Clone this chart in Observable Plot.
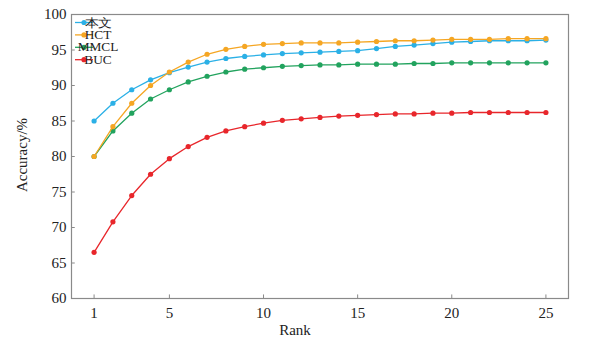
<!DOCTYPE html>
<html>
<head>
<meta charset="utf-8">
<script src="https://cdn.jsdelivr.net/npm/d3@7"></script>
<script src="https://cdn.jsdelivr.net/npm/@observablehq/plot@0.6"></script>
<style>
  html, body { margin: 0; padding: 0; background: #fff; }
  #chart { width: 590px; height: 340px; }
</style>
</head>
<body>
<div id="chart"></div>
<script>
const ranks = [1,2,3,4,5,6,7,8,9,10,11,12,13,14,15,16,17,18,19,20,21,22,23,24,25];
const seriesNames = ["本文", "HCT", "MMCL", "BUC"];
const seriesColors = ["#2bb0e6", "#f5a623", "#22a35e", "#e8262b"];
const benwen = [85.0, 87.5, 89.4, 90.8, 91.8, 92.6, 93.3, 93.8, 94.1, 94.3, 94.5, 94.6, 94.7, 94.8, 94.9, 95.2, 95.5, 95.7, 95.9, 96.1, 96.2, 96.3, 96.3, 96.3, 96.4];
const hct    = [80.0, 84.2, 87.5, 90.0, 91.9, 93.3, 94.4, 95.1, 95.5, 95.8, 95.9, 96.0, 96.0, 96.0, 96.1, 96.2, 96.3, 96.3, 96.4, 96.5, 96.5, 96.5, 96.6, 96.6, 96.6];
const mmcl   = [80.0, 83.6, 86.1, 88.1, 89.4, 90.5, 91.3, 91.9, 92.3, 92.5, 92.7, 92.8, 92.9, 92.9, 93.0, 93.0, 93.0, 93.1, 93.1, 93.2, 93.2, 93.2, 93.2, 93.2, 93.2];
const buc    = [66.5, 70.8, 74.5, 77.5, 79.7, 81.4, 82.7, 83.6, 84.2, 84.7, 85.1, 85.3, 85.5, 85.7, 85.8, 85.9, 86.0, 86.0, 86.1, 86.1, 86.2, 86.2, 86.2, 86.2, 86.2];
const xTicks = [1, 5, 10, 15, 20, 25];
const yTicks = [60, 65, 70, 75, 80, 85, 90, 95, 100];

const seriesValues = [benwen, hct, mmcl, buc];
const rows = [];
seriesNames.forEach((name, si) => {
  ranks.forEach((r, i) => rows.push({series: name, rank: r, acc: seriesValues[si][i]}));
});
const drawOrder = ["BUC", "MMCL", "本文", "HCT"];
const colorOf = Object.fromEntries(seriesNames.map((n, i) => [n, seriesColors[i]]));

const FONT = "'Liberation Serif', 'DejaVu Serif', serif";

const marks = [];
marks.push(Plot.frame({stroke: "#8a8a8a", strokeWidth: 1.2}));
marks.push(Plot.ruleX(xTicks, {x: d => d, y1: 60, y2: 60.5, stroke: "#8a8a8a"}));
marks.push(Plot.ruleY(yTicks, {y: d => d, x1: -0.2, x2: 0.0, stroke: "#8a8a8a"}));
for (const name of drawOrder) {
  const data = rows.filter(d => d.series === name);
  marks.push(Plot.line(data, {x: "rank", y: "acc", stroke: colorOf[name], strokeWidth: 1.3}));
  marks.push(Plot.dot(data, {x: "rank", y: "acc", fill: colorOf[name], r: 2.6, stroke: "none"}));
}
marks.push(Plot.axisX({ticks: xTicks, tickSize: 0, tickPadding: 9, fontSize: 15, label: null}));
marks.push(Plot.axisY({ticks: yTicks, tickSize: 0, tickPadding: 5, fontSize: 15, label: null}));

const chart = Plot.plot({
  width: 590,
  height: 340,
  marginLeft: 71,
  marginRight: 22,
  marginTop: 14,
  marginBottom: 42,
  style: {fontFamily: FONT, color: "#222", background: "#fff"},
  x: {domain: [-0.2, 26.2]},
  y: {domain: [60, 100]},
  marks
});

const svg = d3.select(chart);
// axis titles
svg.append("text")
  .attr("x", 295).attr("y", 335)
  .attr("text-anchor", "middle")
  .attr("font-family", FONT).attr("font-size", 15).attr("fill", "#222")
  .text("Rank");
svg.append("text")
  .attr("transform", "translate(24,155) rotate(-90)")
  .attr("text-anchor", "middle")
  .attr("dominant-baseline", "middle")
  .attr("font-family", FONT).attr("font-size", 15).attr("fill", "#222")
  .text("Accuracy/%");

// legend
const lg = svg.append("g");
seriesNames.forEach((name, i) => {
  const y = 22.5 + i * 12.4;
  lg.append("line").attr("x1", 75).attr("x2", 93).attr("y1", y).attr("y2", y)
    .attr("stroke", seriesColors[i]).attr("stroke-width", 1.3);
  lg.append("circle").attr("cx", 84).attr("cy", y).attr("r", 2.6).attr("fill", seriesColors[i]);
  lg.append("text").attr("transform", `translate(98,${y + 4}) scale(1.16,1)`)
    .attr("font-family", FONT).attr("font-size", 11.5).attr("fill", "#222")
    .text(name);
});

document.getElementById("chart").appendChild(chart);
</script>
</body>
</html>
